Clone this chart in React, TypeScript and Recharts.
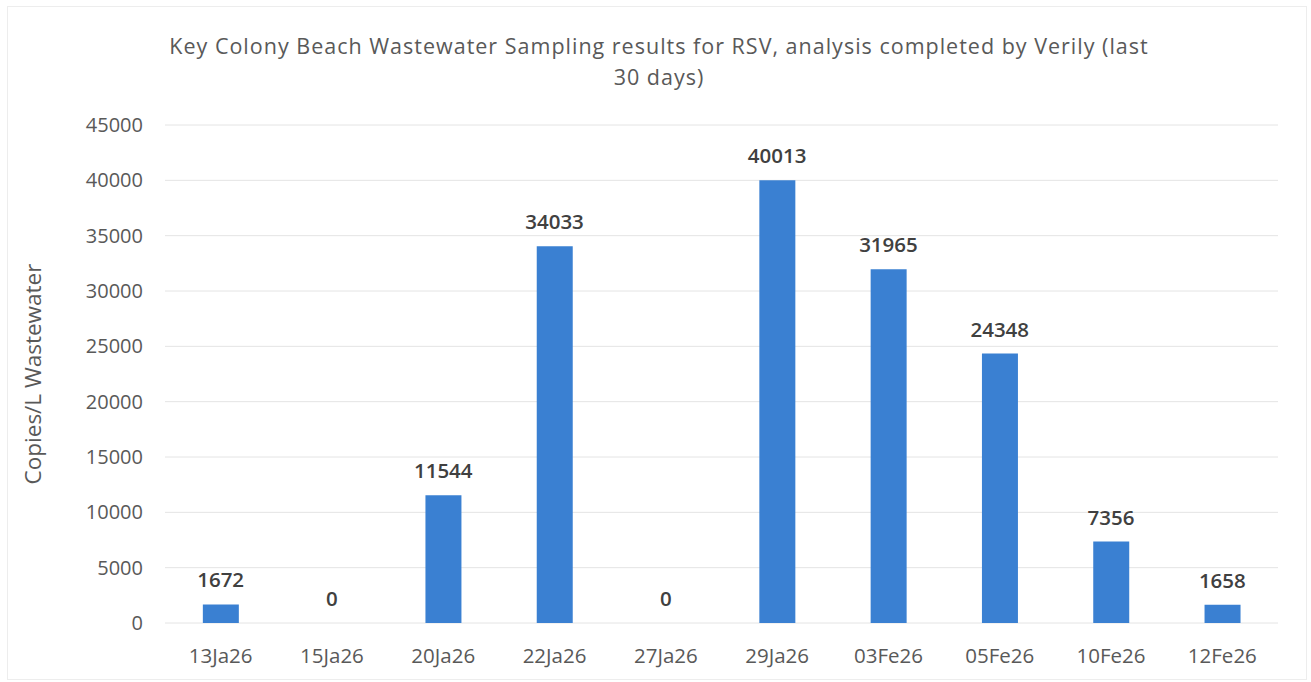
import React from 'react'
import { ComposedChart, Bar, Line, XAxis, YAxis, CartesianGrid, LabelList, Label } from 'recharts'

const dates = ['13Ja26', '15Ja26', '20Ja26', '22Ja26', '27Ja26', '29Ja26', '03Fe26', '05Fe26', '10Fe26', '12Fe26']
const copies = [1672, 0, 11544, 34033, 0, 40013, 31965, 24348, 7356, 1658]
const yTicks = [0, 5000, 10000, 15000, 20000, 25000, 30000, 35000, 40000, 45000]

const data = dates.map((d, i) => ({ date: d, value: copies[i] }))

const font = '"Open Sans", "Noto Sans", sans-serif'
const grey = '#595959'

export default function App() {
  return (
    <div style={{ position: 'absolute', left: 0, top: 0, width: 1311, height: 682, background: '#fff', fontFamily: font }}>
      <div style={{ position: 'absolute', left: 7, top: 6, width: 1300, height: 674, border: '1px solid #ededed', boxSizing: 'border-box' }} />
      <div style={{ position: 'absolute', left: 109, width: 1100, top: 30, textAlign: 'center', color: grey, fontSize: 21.5, lineHeight: '31px', letterSpacing: 1.0, whiteSpace: 'nowrap' }}>
        Key Colony Beach Wastewater Sampling results for RSV, analysis completed by Verily (last<br />30 days)
      </div>
      <ComposedChart width={1311} height={682} data={data} margin={{ top: 125, right: 33, left: 20, bottom: 27 }} barCategoryGap="34%"
        style={{ position: 'absolute', left: 0, top: 0 }}>
        <CartesianGrid vertical={false} stroke="#e4e4e4" />
        <XAxis dataKey="date" axisLine={false} tickLine={false} height={32}
          tick={{ fill: grey, fontSize: 20.5, fontFamily: font }} dy={17} />
        <YAxis domain={[0, 45000]} ticks={yTicks} axisLine={false} tickLine={false} width={145}
          tick={{ fill: grey, fontSize: 20, fontFamily: font }} dx={-14}>
          <Label value="Copies/L Wastewater" angle={-90} position="insideLeft" offset={13}
            style={{ fill: grey, fontSize: 22.5, fontFamily: font, textAnchor: 'middle' }} />
        </YAxis>
        <Bar dataKey="value" fill="#3A80D2" isAnimationActive={false} />
        <Line dataKey="value" stroke="none" dot={false} activeDot={false} isAnimationActive={false} legendType="none">
          <LabelList dataKey="value" position="top" offset={17}
            style={{ fill: '#404040', fontSize: 20.5, fontWeight: 600, fontFamily: font }} />
        </Line>
      </ComposedChart>
    </div>
  )
}
